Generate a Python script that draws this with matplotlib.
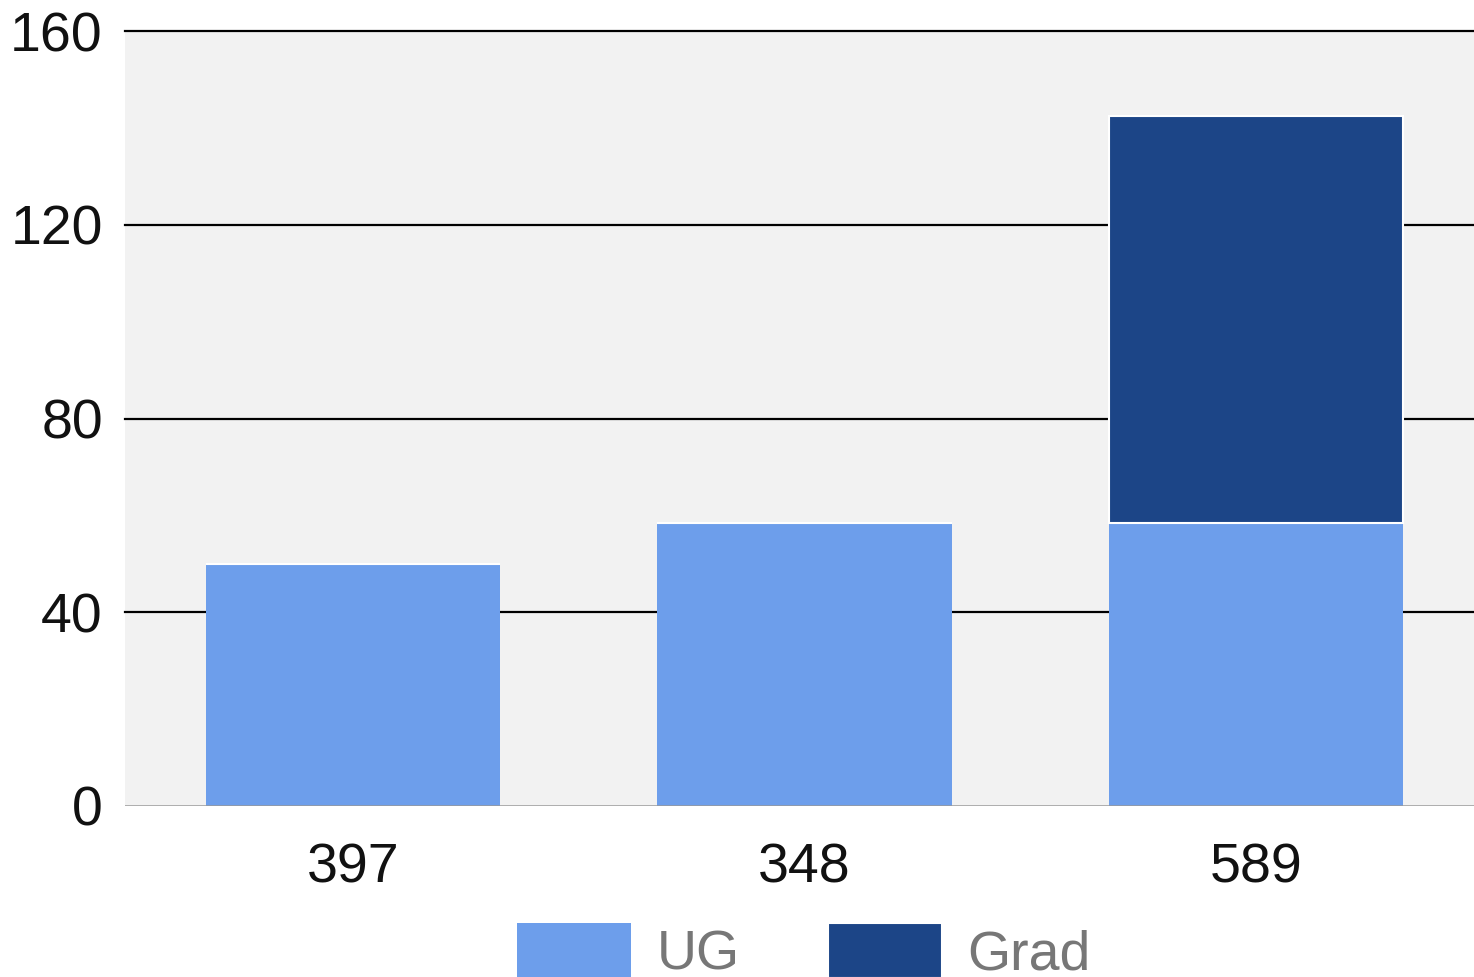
import matplotlib
matplotlib.use("Agg")
import matplotlib.pyplot as plt
import numpy as np

categories = ["397", "348", "589"]
ug = [50, 58.5, 58.5]
grad = [0, 0, 84]
series_names = ["UG", "Grad"]
y_ticks = [0, 40, 80, 120, 160]

ug_color = "#6d9eeb"
grad_color = "#1c4587"

plt.rcParams["font.family"] = ["Liberation Sans", "DejaVu Sans"]

fig = plt.figure(figsize=(14.74, 9.77), dpi=100)
ax = fig.add_axes([125 / 1474, 1 - 806 / 977, 1 - 125 / 1474, (806 - 31) / 977])
ax.set_facecolor("#f2f2f2")

x = np.arange(len(categories))
width = 0.653
b1 = ax.bar(x, ug, width, color=ug_color, label=series_names[0], zorder=3)
b2 = ax.bar(x, grad, width, bottom=ug, color=grad_color, label=series_names[1],
            edgecolor="white", linewidth=1.5, zorder=3)

ax.set_xlim(-0.505, 2.483)
ax.set_ylim(0, 160)
ax.set_yticks(y_ticks)
ax.set_xticks(x)
ax.set_xticklabels(categories)

for t in y_ticks[1:]:
    ax.axhline(t, color="black", linewidth=1.6, zorder=1, clip_on=False)
ax.axhline(0, color="#999999", linewidth=1.8, zorder=4)

for s in ax.spines.values():
    s.set_visible(False)
ax.tick_params(axis="both", length=0, labelsize=40, colors="#111111")
ax.tick_params(axis="y", pad=16)
ax.tick_params(axis="x", pad=26)

leg = fig.legend(handles=[b1, b2], labels=series_names, loc="upper center",
                 bbox_to_anchor=(804 / 1474, 1 - 923 / 977), ncol=2, frameon=False,
                 fontsize=40, handlelength=2.05, handleheight=1.15,
                 handletextpad=0.45, columnspacing=1.6, borderpad=0, borderaxespad=0)
for txt in leg.get_texts():
    txt.set_color("#777777")

fig.savefig("out.png", dpi=100)
